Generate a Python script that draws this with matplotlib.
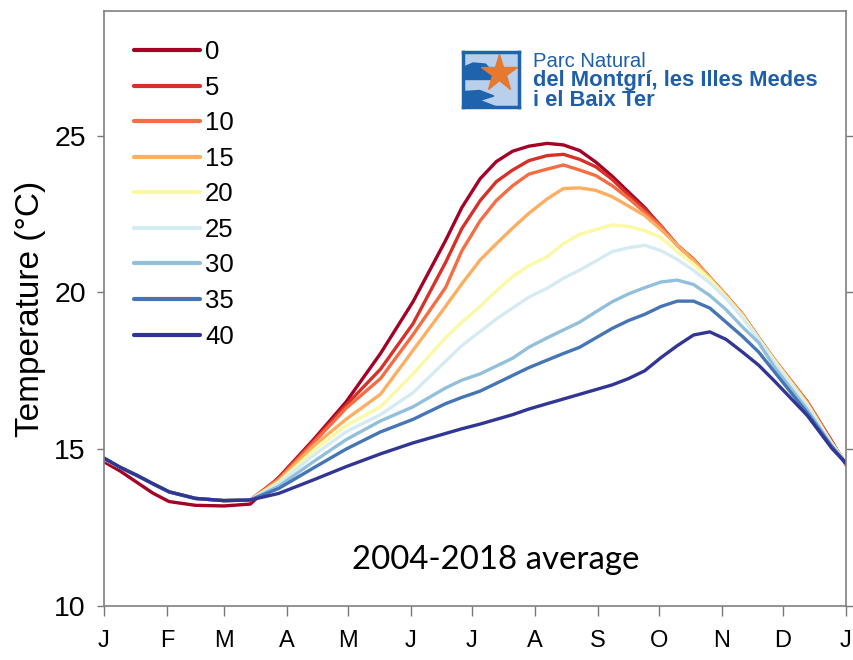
import matplotlib
matplotlib.use("Agg")
import matplotlib.pyplot as plt
from matplotlib.patches import Polygon

# day of year for each sample
days = [0, 8, 16, 24, 32, 45, 59, 72, 86, 103, 119, 136, 152, 168, 176, 185, 193, 201, 209,
        218, 226, 234, 242, 250, 258, 266, 274, 282, 290, 298, 306, 314, 322, 330, 346, 358, 365]

# mean temperature (degC) per depth (m)
t0 = [14.6, 14.3, 13.95, 13.6, 13.33, 13.21, 13.19, 13.25, 14.1, 15.3, 16.5, 18.05, 19.7,
      21.65, 22.7, 23.62, 24.17, 24.5, 24.66, 24.75, 24.7, 24.52, 24.15, 23.7, 23.2, 22.7,
      22.1, 21.5, 21.05, 20.47, 19.9, 19.3, 18.55, 17.83, 16.5, 15.25, 14.5]
t5 = [14.65, 14.42, 14.17, 13.9, 13.64, 13.43, 13.36, 13.38, 14.08, 15.25, 16.4, 17.55, 19.0,
      20.95, 22.03, 22.92, 23.53, 23.9, 24.2, 24.36, 24.4, 24.24, 24.0, 23.6, 23.1, 22.65,
      22.12, 21.5, 21.05, 20.47, 19.9, 19.3, 18.55, 17.83, 16.5, 15.22, 14.52]
t10 = [14.7, 14.42, 14.17, 13.9, 13.64, 13.43, 13.36, 13.38, 14.05, 15.2, 16.3, 17.25, 18.65,
       20.15, 21.32, 22.28, 22.93, 23.4, 23.77, 23.93, 24.06, 23.9, 23.72, 23.4, 23.0, 22.55,
       22.1, 21.5, 21.05, 20.47, 19.9, 19.3, 18.55, 17.83, 16.5, 15.2, 14.55]
t15 = [14.7, 14.42, 14.17, 13.9, 13.64, 13.43, 13.36, 13.38, 14.0, 15.1, 15.95, 16.75, 18.15,
       19.55, 20.27, 21.03, 21.55, 22.05, 22.52, 22.98, 23.31, 23.33, 23.25, 23.05, 22.75,
       22.45, 22.0, 21.5, 21.02, 20.47, 19.9, 19.3, 18.55, 17.83, 16.47, 15.2, 14.55]
t20 = [14.7, 14.42, 14.17, 13.9, 13.64, 13.43, 13.36, 13.38, 13.95, 14.95, 15.75, 16.35, 17.4,
       18.55, 19.05, 19.55, 20.05, 20.5, 20.85, 21.13, 21.55, 21.85, 22.0, 22.15, 22.1, 21.97,
       21.75, 21.3, 20.9, 20.42, 19.85, 19.25, 18.52, 17.8, 16.42, 15.18, 14.55]
t25 = [14.7, 14.42, 14.17, 13.9, 13.64, 13.43, 13.36, 13.38, 13.9, 14.8, 15.55, 16.1, 16.8,
       17.8, 18.3, 18.75, 19.15, 19.5, 19.85, 20.13, 20.45, 20.71, 21.0, 21.3, 21.42, 21.5,
       21.33, 21.05, 20.7, 20.3, 19.8, 19.2, 18.5, 17.75, 16.37, 15.15, 14.55]
t30 = [14.7, 14.42, 14.17, 13.9, 13.64, 13.43, 13.36, 13.38, 13.82, 14.6, 15.3, 15.9, 16.35,
       16.95, 17.2, 17.4, 17.65, 17.9, 18.25, 18.55, 18.8, 19.05, 19.38, 19.7, 19.95, 20.15,
       20.33, 20.39, 20.25, 19.9, 19.45, 18.9, 18.4, 17.6, 16.25, 15.1, 14.55]
t35 = [14.7, 14.42, 14.17, 13.9, 13.64, 13.43, 13.36, 13.38, 13.75, 14.4, 15.0, 15.55, 15.95,
       16.45, 16.65, 16.85, 17.1, 17.35, 17.6, 17.84, 18.05, 18.25, 18.55, 18.85, 19.1, 19.3,
       19.55, 19.72, 19.72, 19.5, 19.05, 18.6, 18.1, 17.45, 16.15, 15.08, 14.55]
t40 = [14.72, 14.42, 14.17, 13.9, 13.64, 13.43, 13.36, 13.38, 13.59, 14.02, 14.44, 14.85, 15.2,
       15.5, 15.65, 15.8, 15.95, 16.1, 16.28, 16.45, 16.6, 16.75, 16.9, 17.05, 17.25, 17.5,
       17.92, 18.3, 18.64, 18.74, 18.5, 18.1, 17.68, 17.16, 16.07, 15.03, 14.55]

depths = ["0", "5", "10", "15", "20", "25", "30", "35", "40"]
temps = [t0, t5, t10, t15, t20, t25, t30, t35, t40]
colors = ["#a50026", "#d73027", "#f46d43", "#fdae61", "#fbf8a6",
          "#d5ebf4", "#92c0db", "#4575b4", "#313695"]

month_starts = [0, 31, 59, 90, 120, 151, 181, 212, 243, 273, 304, 334, 365]
month_labels = ["J", "F", "M", "A", "M", "J", "J", "A", "S", "O", "N", "D", "J"]

plt.rcParams["font.family"] = ["Liberation Sans", "DejaVu Sans"]

fig = plt.figure(figsize=(8.54, 6.6), dpi=100)
ax = fig.add_axes([104 / 854, 1 - 606 / 660, 742 / 854, 595 / 660])

for lab, t, c in zip(depths, temps, colors):
    ax.plot(days, t, color=c, lw=2.4, label=lab, solid_capstyle="round")

ax.set_xlim(0, 365)
ax.set_ylim(10, 28.97)
ax.set_xticks(month_starts)
ax.set_xticklabels(month_labels, fontsize=17)
ax.set_yticks([10, 15, 20, 25])
ax.set_yticklabels(["10", "15", "20", "25"], fontsize=20.5)
ax.tick_params(axis="x", length=7, width=1, color="#777777", pad=10)
ax.tick_params(axis="y", length=5, width=1, color="#777777", pad=8, right=True)
for s in ax.spines.values():
    s.set_color("#808080")
    s.set_linewidth(1.2)
ax.set_ylabel("Temperature (°C)", fontsize=24, labelpad=6)

leg = ax.legend(loc="upper left", bbox_to_anchor=(0.009, 0.99), frameon=False,
                fontsize=18.5, handlelength=2.57, handletextpad=0.2, labelspacing=0.45)
for h in leg.get_lines():
    h.set_linewidth(3)

ax.text(0.528, 0.077, "2004-2018 average", transform=ax.transAxes, ha="center",
        va="center", fontsize=23.8, family=["Lato", "DejaVu Sans"])

# logo
lax = fig.add_axes([463 / 854, 1 - 107 / 660, 56 / 854, 55 / 660])
lax.set_xlim(0, 1)
lax.set_ylim(0, 1)
lax.set_facecolor("#b8d0ec")
lax.set_xticks([])
lax.set_yticks([])
for s in lax.spines.values():
    s.set_color("#1f63ad")
    s.set_linewidth(2.5)
lax.add_patch(Polygon([(0, 0.5), (0, 0.72), (0.18, 0.8), (0.4, 0.78), (0.55, 0.62), (0.55, 0.5)],
                      closed=True, color="#1f63ad"))
lax.add_patch(Polygon([(0, 0), (0, 0.28), (0.3, 0.3), (0.55, 0.2), (0.3, 0.12), (0.6, 0.0)],
                      closed=True, color="#1f63ad"))
lax.plot([0.65], [0.62], marker="*", ms=28, color="#e57a2e", mec="#e57a2e")

blue = "#1f5ea8"
fig.text(533 / 854, 1 - 67 / 660, "Parc Natural", color=blue, fontsize=14.6,
         va="baseline", ha="left")
fig.text(533 / 854, 1 - 86 / 660, "del Montgrí, les Illes Medes", color=blue,
         fontsize=15.8, fontweight="bold", va="baseline", ha="left")
fig.text(533 / 854, 1 - 106 / 660, "i el Baix Ter", color=blue, fontsize=15.8,
         fontweight="bold", va="baseline", ha="left")

fig.savefig("out.png", dpi=100)
